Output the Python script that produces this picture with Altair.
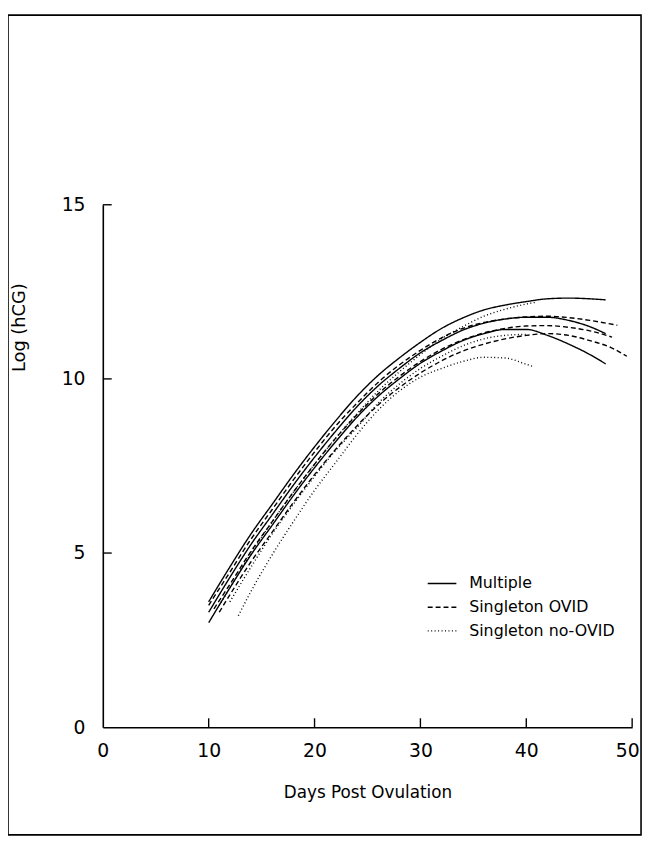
import altair as alt
import pandas as pd

# ---------------- data ----------------
groups = ["Multiple", "Singleton OVID", "Singleton no-OVID"]

# Multiple (solid)
mult_hi_x = [10, 12, 14, 16, 18, 20, 22, 24, 26, 28, 30, 32, 34, 36, 38, 40, 42, 44, 46, 47.5]
mult_hi_y = [3.6, 4.6, 5.55, 6.4, 7.25, 8.05, 8.8, 9.5, 10.1, 10.6, 11.05, 11.45, 11.75, 11.98, 12.12, 12.22, 12.3, 12.32, 12.3, 12.27]
mult_mid_x = [10, 12, 14, 16, 18, 20, 22, 24, 26, 28, 30, 32, 34, 36, 38, 40, 42, 44, 46, 47.5]
mult_mid_y = [3.3, 4.3, 5.25, 6.1, 6.95, 7.75, 8.5, 9.2, 9.8, 10.3, 10.75, 11.1, 11.4, 11.6, 11.72, 11.77, 11.77, 11.68, 11.5, 11.3]
mult_lo_x = [10, 12, 14, 16, 18, 20, 22, 24, 26, 28, 30, 32, 34, 36, 38, 40, 42, 44, 46, 47.5]
mult_lo_y = [3.0, 4.0, 4.95, 5.8, 6.65, 7.45, 8.2, 8.9, 9.5, 10.0, 10.45, 10.8, 11.1, 11.3, 11.42, 11.42, 11.25, 11.0, 10.7, 10.43]

# Singleton OVID (dashed)
ovid_hi_x = [10, 12, 14, 16, 18, 20, 22, 24, 26, 28, 30, 32, 34, 36, 38, 40, 42, 44, 46, 48.6]
ovid_hi_y = [3.5, 4.45, 5.4, 6.25, 7.1, 7.9, 8.65, 9.3, 9.9, 10.4, 10.82, 11.18, 11.45, 11.62, 11.72, 11.78, 11.8, 11.76, 11.68, 11.54]
ovid_mid_x = [10.5, 12, 14, 16, 18, 20, 22, 24, 26, 28, 30, 32, 34, 36, 38, 40, 42, 44, 46, 48.1]
ovid_mid_y = [3.4, 4.1, 5.05, 5.9, 6.75, 7.55, 8.3, 8.97, 9.57, 10.07, 10.5, 10.85, 11.12, 11.32, 11.45, 11.52, 11.53, 11.48, 11.38, 11.2]
ovid_lo_x = [11, 12, 14, 16, 18, 20, 22, 24, 26, 28, 30, 32, 34, 36, 38, 40, 42, 44, 46, 48, 49.5]
ovid_lo_y = [3.3, 3.8, 4.75, 5.6, 6.45, 7.25, 7.98, 8.65, 9.25, 9.75, 10.17, 10.52, 10.8, 11.0, 11.15, 11.25, 11.3, 11.25, 11.1, 10.9, 10.65]

# Singleton no-OVID (dotted)
noov_hi_x = [11, 12, 14, 16, 18, 20, 22, 24, 26, 28, 30, 32, 34, 36, 38, 40, 40.9]
noov_hi_y = [3.5, 4.0, 5.0, 5.9, 6.75, 7.55, 8.3, 9.0, 9.65, 10.2, 10.7, 11.15, 11.5, 11.8, 12.0, 12.15, 12.2]
noov_mid_x = [12, 14, 16, 18, 20, 22, 24, 26, 28, 30, 32, 34, 36, 38, 40]
noov_mid_y = [3.6, 4.6, 5.55, 6.4, 7.2, 7.95, 8.6, 9.3, 9.85, 10.3, 10.65, 10.95, 11.15, 11.25, 11.28]
noov_lo_x = [12.8, 14, 16, 18, 20, 22, 24, 26, 28, 30, 32, 34, 36, 38, 40, 40.7]
noov_lo_y = [3.2, 3.9, 4.95, 5.9, 6.8, 7.6, 8.4, 9.1, 9.65, 10.05, 10.3, 10.5, 10.62, 10.6, 10.42, 10.35]

x_tick_values = [0, 10, 20, 30, 40, 50]
y_tick_values = [0, 5, 10, 15]

curves = [
    ("Multiple", "m_hi", mult_hi_x, mult_hi_y),
    ("Multiple", "m_mid", mult_mid_x, mult_mid_y),
    ("Multiple", "m_lo", mult_lo_x, mult_lo_y),
    ("Singleton OVID", "o_hi", ovid_hi_x, ovid_hi_y),
    ("Singleton OVID", "o_mid", ovid_mid_x, ovid_mid_y),
    ("Singleton OVID", "o_lo", ovid_lo_x, ovid_lo_y),
    ("Singleton no-OVID", "n_hi", noov_hi_x, noov_hi_y),
    ("Singleton no-OVID", "n_mid", noov_mid_x, noov_mid_y),
    ("Singleton no-OVID", "n_lo", noov_lo_x, noov_lo_y),
]
rows = []
for grp, cid, xs, ys in curves:
    for i, (x, y) in enumerate(zip(xs, ys)):
        rows.append({"group": grp, "curve": cid, "day": x, "loghcg": y, "ord": i})
df = pd.DataFrame(rows)

FONT = "DejaVu Sans"
W, H = 536, 529

x_scale = alt.Scale(domain=[0, 50], nice=False, zero=False)
y_scale = alt.Scale(domain=[0, 15], nice=False)

lines = alt.Chart(df).mark_line(color="black", strokeWidth=1.4, interpolate="monotone").encode(
    x=alt.X("day:Q", scale=x_scale,
            axis=alt.Axis(title="Days Post Ovulation", values=x_tick_values, ticks=False, grid=False,
                          domainColor="black", domainWidth=1.6, labelFontSize=19, labelPadding=15,
                          labelOffset={"condition": {"test": "datum.value == 50", "value": -5}, "value": 0},
                          labelColor="black", labelFont=FONT, titleFont=FONT, titleFontSize=17,
                          titleFontWeight="normal", titleColor="black", titleY=66,
                          titleBaseline="middle", labelFlush=False)),
    y=alt.Y("loghcg:Q", scale=y_scale,
            axis=alt.Axis(title="Log (hCG)", values=y_tick_values, ticks=False, grid=False,
                          domainColor="black", domainWidth=1.6, labelFontSize=19, labelPadding=18,
                          labelColor="black", labelFont=FONT, titleFont=FONT, titleFontSize=18,
                          titleFontWeight="normal", titleColor="black", titleX=-84, titleY=124,
                          titleAlign="center", titleBaseline="middle", labelFlush=False)),
    strokeDash=alt.StrokeDash("group:N",
                              scale=alt.Scale(domain=groups, range=[[1, 0], [5, 3], [1, 2.5]]),
                              legend=alt.Legend(title=None, orient="none", legendX=328, legendY=368,
                                                symbolType="stroke", symbolSize=841,
                                                symbolStrokeWidth=1.4, symbolStrokeColor="black",
                                                labelFontSize=16, labelFont=FONT, labelColor="black",
                                                labelOffset=12, rowPadding=0)),
    detail="curve:N",
    order="ord:Q",
)

ytick_df = pd.DataFrame({"v": [5, 10, 15]})
yticks = alt.Chart(ytick_df).mark_rule(color="black", strokeWidth=1.4).encode(
    y=alt.Y("v:Q", scale=y_scale), x=alt.value(0), x2=alt.value(9))

xtick_df = pd.DataFrame({"v": [10, 20, 30, 40, 50]})
xticks = alt.Chart(xtick_df).mark_rule(color="black", strokeWidth=1.4).encode(
    x=alt.X("v:Q", scale=x_scale), y=alt.value(H), y2=alt.value(H - 9))

frame = alt.Chart(pd.DataFrame({"a": [0]})).mark_rect(
    filled=False, stroke="black", strokeWidth=1.6).encode(
    x=alt.value(-96), x2=alt.value(545), y=alt.value(-192), y2=alt.value(638))

chart = alt.layer(frame, lines, yticks, xticks).properties(
    width=W, height=H,
    background="white",
    autosize=alt.AutoSizeParams(type="none"),
    padding={"left": 96, "top": 194, "right": 12, "bottom": 110},
).configure_view(stroke=None, strokeWidth=0)

chart.save("out.html", embed_options={"renderer": "svg", "actions": False})
